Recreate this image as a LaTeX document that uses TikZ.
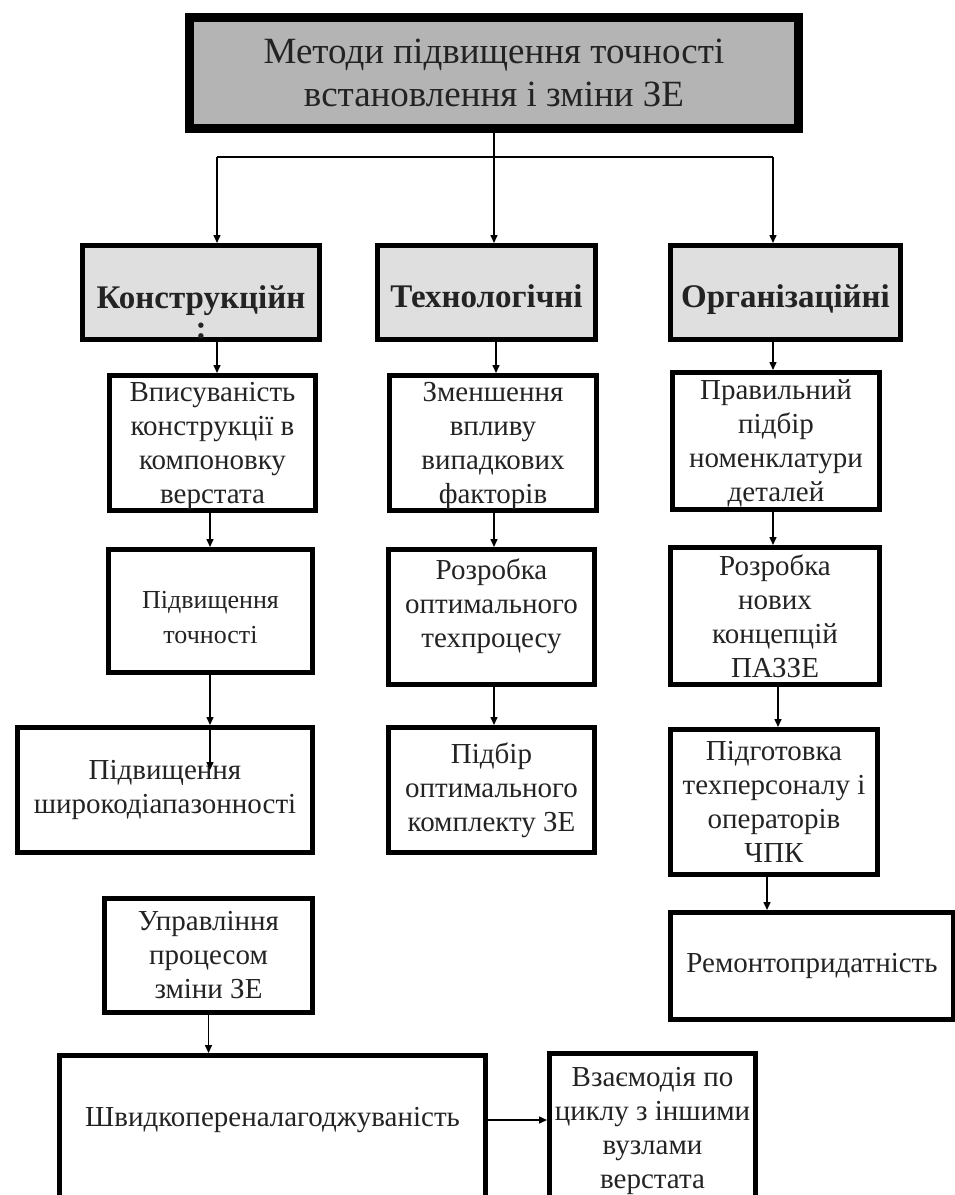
\documentclass[tikz,border=0pt]{standalone}
\usepackage{fontspec}
\setmainfont{Liberation Serif}
\usetikzlibrary{arrows.meta}
\definecolor{topfill}{RGB}{180,180,180}
\definecolor{catfill}{RGB}{223,223,223}
\definecolor{ink}{RGB}{35,35,35}
\begin{document}
\begin{tikzpicture}[x=1pt,y=-1pt,
  box/.style={draw=black, line width=5pt, inner sep=0pt, align=center, text=ink,
              font=\fontsize{29}{34}\selectfont},
  topbox/.style={box, line width=9pt, fill=topfill, font=\fontsize{37}{43}\selectfont},
  catbox/.style={box, fill=catfill, font=\fontsize{33}{34}\selectfont\bfseries,
                 text height=30pt, text depth=0pt},
  label/.style={inner sep=0pt, align=center, text=ink, font=\fontsize{29}{34}\selectfont},
  conn/.style={line width=1.5pt, draw=black},
  arr/.style={conn, -{Triangle[length=8pt,width=7pt]}}
]
\useasboundingbox (0,0) rectangle (955,1195);
\clip (0,0) rectangle (955,1195);

% column positions of the connectors
\coordinate (a1) at (217,0);
\coordinate (a2) at (210,0);
\coordinate (b1) at (496,0);
\coordinate (b2) at (494,0);
\coordinate (c1) at (773,0);
\coordinate (c2) at (778,0);
\coordinate (c3) at (767,0);

% title
\node[topbox, minimum width=609, minimum height=111] (top) at (494,73)
  {Методи підвищення точності\\встановлення і зміни ЗЕ};

% categories
\node[catbox, minimum width=237, minimum height=94] (konstr) at (201,292.5) {};
\node[label, font=\fontsize{33}{30}\selectfont\bfseries] (konstrT) at (201,312) {Конструкційн\\:};
\node[catbox, minimum width=218, minimum height=94] (tekh) at (486.5,292.5) {Технологічні};
\node[catbox, minimum width=230, minimum height=94] (org) at (785.5,292.5) {Організаційні};

% row 2
\node[box, minimum width=206, minimum height=135] (vp) at (212.5,443) {};
\node[label] (vpT) at (212.5,445.5) {Вписуваність\\конструкції в\\компоновку\\верстата};
\node[box, minimum width=207, minimum height=135] (zm) at (493,443) {};
\node[label] (zmT) at (493,445.5) {Зменшення\\впливу\\випадкових\\факторів};
\node[box, minimum width=207, minimum height=137] (pr) at (776,441) {};
\node[label] (prT) at (776,443) {Правильний\\підбір\\номенклатури\\деталей};

% row 3
\node[box, minimum width=204, minimum height=123] (pt) at (210.5,611) {};
\node[label, font=\fontsize{26}{35}\selectfont] (ptT) at (210.5,618) {Підвищення\\точності};
\node[box, minimum width=206, minimum height=135] (ro) at (491.5,617) {};
\node[label] (roT) at (491.5,606) {Розробка\\оптимального\\техпроцесу};
\node[box, minimum width=209, minimum height=137] (rn) at (775,616)
  {Розробка\\нових\\концепцій\\ПАЗЗЕ};

% row 4
\node[box, minimum width=295, minimum height=125] (pw) at (165,790)
  {Підвищення\\широкодіапазонності};
\node[box, minimum width=206, minimum height=125] (pb) at (491.5,790)
  {Підбір\\оптимального\\комплекту ЗЕ};
\node[box, minimum width=207, minimum height=145] (pg) at (774,802)
  {Підготовка\\техперсоналу і\\операторів\\ЧПК};

% lower part
\node[box, minimum width=283, minimum height=107] (rm) at (812,966) {Ремонтопридатність};
\node[box, minimum width=208, minimum height=114] (up) at (208.5,955.5)
  {Управління\\процесом\\зміни ЗЕ};
\node[box, minimum width=426, minimum height=152] (shv) at (272.5,1131.5) {};
\node[label] (shvT) at (272.5,1120) {Швидкопереналагоджуваність};
\node[box, minimum width=206, minimum height=154] (vz) at (652.5,1130.5)
  {Взаємодія по\\циклу з іншими\\вузлами\\верстата};

% connectors from the title
\coordinate (hl) at (217,157);
\coordinate (hr) at (773,157);
\draw[conn] (top.south) -- (top.south |- hl);
\draw[conn] (hl) -- (hr);
\draw[arr] (hl) -- (hl |- konstr.north);
\draw[arr] (top.south |- hl) -- (top.south |- tekh.north);
\draw[arr] (hr) -- (hr |- org.north);

% category -> row 2
\draw[arr] (konstr.south -| a1) -- (vp.north -| a1);
\draw[arr] (tekh.south -| b1) -- (zm.north -| b1);
\draw[arr] (org.south -| c1) -- (pr.north -| c1);

% row 2 -> row 3
\draw[arr] (vp.south -| a2) -- (pt.north -| a2);
\draw[arr] (zm.south -| b2) -- (ro.north -| b2);
\draw[arr] (pr.south -| c1) -- (rn.north -| c1);

% row 3 -> row 4
\draw[arr] (pt.south -| a2) -- (pw.north -| a2);
\coordinate (pwin) at (210,770);
\draw[arr] (pw.north -| a2) -- (pwin);
\draw[arr] (ro.south -| b2) -- (pb.north -| b2);
\draw[arr] (rn.south -| c2) -- (pg.north -| c2);
\draw[arr] (pg.south -| c3) -- (rm.north -| c3);

% lower part
\draw[arr] (up.south) -- (up.south |- shv.north);
\draw[arr] (shv.east |- shvT) -- (vz.west |- shvT);
\end{tikzpicture}
\end{document}
